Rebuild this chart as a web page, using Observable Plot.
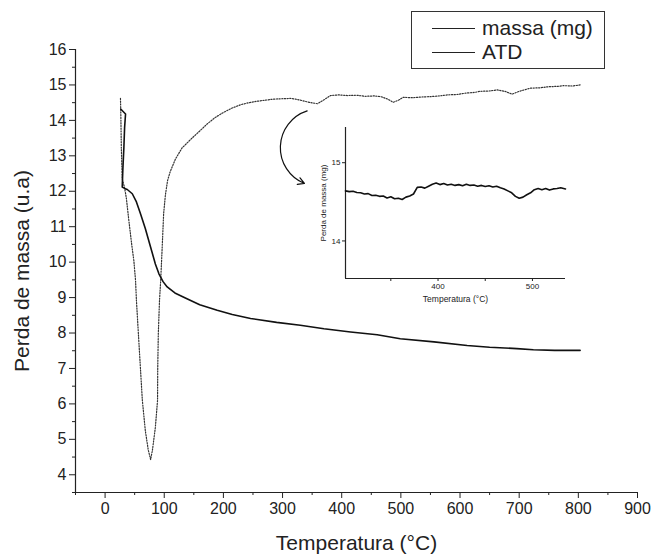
<!DOCTYPE html>
<html>
<head>
<meta charset="utf-8">
<script src="https://cdn.jsdelivr.net/npm/d3@7"></script>
<script src="https://cdn.jsdelivr.net/npm/@observablehq/plot@0.6"></script>
<style>
  html, body { margin: 0; padding: 0; background: #fff; }
  #wrap { position: relative; width: 659px; height: 555px; font-family: "Liberation Sans", Arial, Helvetica, sans-serif; }
  #wrap svg { position: absolute; }
  #legend { position: absolute; left: 411px; top: 11px; width: 192px; height: 56px; border: 1.5px solid #333; background: #fff; }
  .li { position: absolute; left: 0; height: 22px; display: flex; align-items: center; font-size: 21px; color: #222; }
  .li span.sw { display: inline-block; width: 43px; height: 0; border-top: 1.3px solid #222; margin-left: 20px; margin-right: 7px; }
</style>
</head>
<body>
<div id="wrap">
  <div id="legend">
    <div class="li" style="top:5px"><span class="sw"></span>massa (mg)</div>
    <div class="li" style="top:29px"><span class="sw"></span>ATD</div>
  </div>
</div>
<script>
// ---- data ----
const xMajor = [0, 100, 200, 300, 400, 500, 600, 700, 800, 900];
const xMinor = [-50, 50, 150, 250, 350, 450, 550, 650, 750, 850];
const yMajor = [4, 5, 6, 7, 8, 9, 10, 11, 12, 13, 14, 15, 16];
const yMinor = [3.5, 4.5, 5.5, 6.5, 7.5, 8.5, 9.5, 10.5, 11.5, 12.5, 13.5, 14.5, 15.5];

// solid curve
const tempMassa = [26.4, 34.6, 33, 31.8, 30, 29, 33, 37.5, 46, 53, 60, 68, 77, 85, 91, 98, 105, 118, 133, 160, 189.5, 215, 246, 290, 330, 370, 415, 460, 499, 556, 612, 650, 696, 724, 760, 803];
const massa = [14.32, 14.18, 13.8, 13.24, 12.6, 12.12, 12.08, 12.05, 11.93, 11.7, 11.36, 10.95, 10.42, 9.95, 9.67, 9.45, 9.3, 9.13, 9.01, 8.8, 8.64, 8.52, 8.41, 8.3, 8.22, 8.12, 8.03, 7.95, 7.84, 7.75, 7.65, 7.6, 7.56, 7.53, 7.51, 7.51];

// dotted curve
const tempAtd = [26, 26.5, 27.5, 29, 33, 36, 40, 45, 48.6, 51.5, 53, 58, 63, 68, 73, 77, 80, 85, 88.7, 89, 90, 92, 94, 96.5, 99, 102, 105.6, 110, 119, 130, 147, 160, 172.6, 186, 200.7, 215, 229, 243, 257, 271, 285, 299, 313, 322, 330, 345, 359, 370, 381, 395, 410, 425, 440, 455, 466, 478, 487, 496, 504, 520, 535, 550, 565, 579, 595, 610, 625, 634, 650, 663, 676, 688, 700, 719, 735, 750, 765, 775, 790, 803];
const atd = [14.62, 14.3, 13.2, 12.35, 12.1, 11.8, 11.2, 10.5, 10.05, 9.48, 8.92, 7.5, 6.1, 5.25, 4.7, 4.43, 4.69, 5.34, 6.1, 7.0, 7.99, 8.92, 9.48, 10.4, 11.37, 11.9, 12.3, 12.55, 12.91, 13.22, 13.5, 13.7, 13.9, 14.08, 14.23, 14.35, 14.44, 14.5, 14.54, 14.57, 14.6, 14.61, 14.62, 14.6, 14.57, 14.51, 14.47, 14.58, 14.7, 14.72, 14.7, 14.71, 14.68, 14.69, 14.67, 14.6, 14.51, 14.57, 14.65, 14.64, 14.66, 14.67, 14.69, 14.72, 14.73, 14.77, 14.79, 14.82, 14.83, 14.86, 14.82, 14.74, 14.82, 14.91, 14.92, 14.95, 14.96, 14.98, 14.97, 15.0];

// annotation arrow (main-chart data units)
const arrowFrom = [341.6, 14.27];
const arrowTo = [337, 12.22];

// inset
const insetXTicks = [350, 400, 450, 500];
const insetYTicks = [14, 15];
const insetTemp = [302, 306, 310, 314, 318, 322, 326, 330, 334, 338, 342, 346, 350, 354, 358, 362, 366, 370, 374, 378, 382, 386, 390, 394, 398, 402, 406, 410, 414, 418, 422, 426, 430, 434, 438, 442, 446, 450, 454, 458, 462, 466, 470, 474, 478, 482, 486, 490, 494, 498, 502, 506, 510, 514, 518, 522, 526, 530, 535];
const insetMassa = [14.64, 14.63, 14.635, 14.62, 14.615, 14.6, 14.605, 14.58, 14.585, 14.57, 14.575, 14.55, 14.565, 14.54, 14.545, 14.53, 14.56, 14.575, 14.6, 14.685, 14.69, 14.675, 14.7, 14.725, 14.74, 14.72, 14.735, 14.715, 14.725, 14.71, 14.72, 14.705, 14.725, 14.71, 14.715, 14.7, 14.71, 14.695, 14.705, 14.69, 14.7, 14.68, 14.665, 14.64, 14.615, 14.57, 14.545, 14.56, 14.59, 14.615, 14.655, 14.67, 14.655, 14.67, 14.65, 14.665, 14.67, 14.68, 14.665];

// ---- build ----
const FONT = '"Liberation Sans", Arial, Helvetica, sans-serif';
const massaRows = tempMassa.map((t, i) => ({t, v: massa[i]}));
const atdRows = tempAtd.map((t, i) => ({t, v: atd[i]}));
const insetRows = insetTemp.map((t, i) => ({t, v: insetMassa[i]}));

const main = Plot.plot({
  width: 659, height: 555,
  marginLeft: 75, marginRight: 22, marginTop: 49, marginBottom: 63,
  x: {domain: [-50, 900]},
  y: {domain: [3.5, 16]},
  style: {fontFamily: FONT, fontSize: "16px", color: "#222", background: "transparent", overflow: "visible"},
  marks: [
    Plot.axisX({ticks: xMajor, tickSize: 6, tickPadding: 4, label: null, fontSize: 16}),
    Plot.axisX({ticks: xMinor, tickSize: 3, text: null, label: null}),
    Plot.axisY({ticks: yMajor, tickSize: 6, tickPadding: 3, label: null, fontSize: 16}),
    Plot.axisY({ticks: yMinor, tickSize: 3, text: null, label: null}),
    Plot.ruleX([-50], {stroke: "#222", strokeWidth: 1.2}),
    Plot.ruleY([3.5], {stroke: "#222", strokeWidth: 1.2}),
    Plot.line(atdRows, {x: "t", y: "v", stroke: "#333", strokeWidth: 1.2, strokeDasharray: "1.2,1.5"}),
    Plot.line(massaRows, {x: "t", y: "v", stroke: "#111", strokeWidth: 1.6}),
    Plot.arrow([{x1: arrowFrom[0], y1: arrowFrom[1], x2: arrowTo[0], y2: arrowTo[1]}],
      {x1: "x1", y1: "y1", x2: "x2", y2: "y2", bend: -70, headLength: 9, strokeWidth: 1.2, stroke: "#111", insetStart: 0, insetEnd: 0}),
    Plot.text(["Temperatura (°C)"], {frameAnchor: "bottom", lineAnchor: "middle", textAnchor: "middle", dy: 51, fontSize: 21, fill: "#222"}),
    Plot.text(["Perda de massa (u.a)"], {frameAnchor: "left", lineAnchor: "middle", textAnchor: "middle", dx: -53, rotate: -90, fontSize: 21, fill: "#222"})
  ]
});
main.style.left = "0px"; main.style.top = "0px";

const inset = Plot.plot({
  width: 280, height: 195,
  marginLeft: 45, marginTop: 12, marginRight: 15, marginBottom: 32,
  x: {domain: [302, 535]},
  y: {domain: [13.52, 15.45]},
  style: {fontFamily: FONT, fontSize: "8px", color: "#222", background: "transparent", overflow: "visible"},
  marks: [
    Plot.axisX({ticks: insetXTicks, tickSize: 3, tickPadding: 2, tickFormat: d => d % 100 === 0 ? String(d) : "", label: null, fontSize: 8}),
    Plot.axisY({ticks: insetYTicks, tickSize: 3, tickPadding: 2, tickFormat: d => String(d), label: null, fontSize: 8}),
    Plot.ruleX([302], {stroke: "#222", strokeWidth: 1.2}),
    Plot.ruleY([13.52], {stroke: "#222", strokeWidth: 1.2}),
    Plot.line(insetRows, {x: "t", y: "v", stroke: "#111", strokeWidth: 1.6}),
    Plot.text(["Temperatura (°C)"], {frameAnchor: "bottom", lineAnchor: "middle", textAnchor: "middle", dy: 21, fontSize: 8.5, fill: "#222"}),
    Plot.text(["Perda de massa (mg)"], {frameAnchor: "left", lineAnchor: "middle", textAnchor: "middle", dx: -22, rotate: -90, fontSize: 8, fill: "#222"})
  ]
});
inset.style.left = "300px"; inset.style.top = "115px";

const wrap = document.getElementById("wrap");
wrap.insertBefore(main, wrap.firstChild);
wrap.insertBefore(inset, document.getElementById("legend"));
</script>
</body>
</html>
